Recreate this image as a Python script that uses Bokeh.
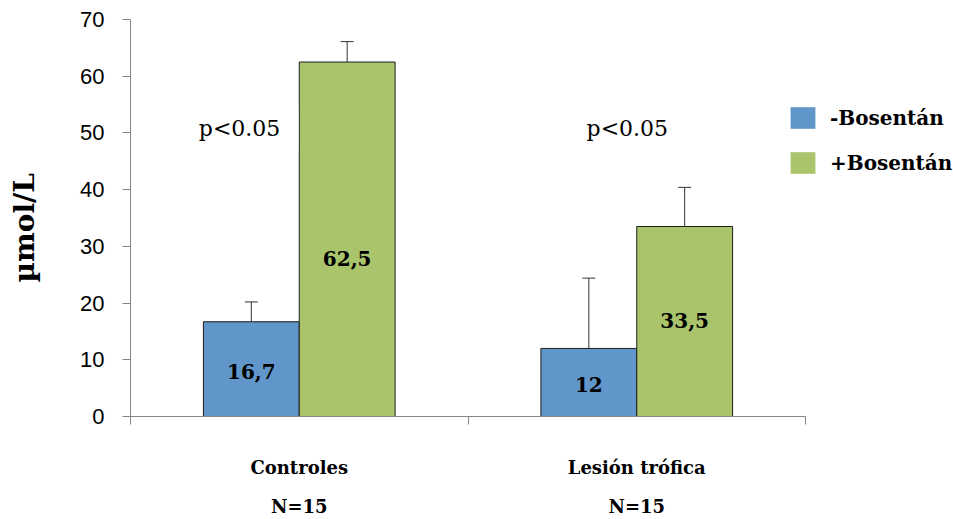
from bokeh.plotting import figure
from bokeh.models import (Range1d, FixedTicker, Whisker, ColumnDataSource, Label,
                          Legend, LegendItem, TeeHead, LinearAxis)
from bokeh.embed import file_html
from bokeh.resources import INLINE
from bokeh.core.properties import value

# ---- data ----
categories = ["Controles", "Lesión trófica"]
sample_sizes = ["N=15", "N=15"]
series_names = ["-Bosentán", "+Bosentán"]
minus_values = [16.7, 12.0]
plus_values = [62.5, 33.5]
minus_errors = [3.5, 12.4]
plus_errors = [3.6, 6.9]
minus_text = ["16,7", "12"]
plus_text = ["62,5", "33,5"]
p_texts = ["p<0.05", "p<0.05"]
y_ticks = [0, 10, 20, 30, 40, 50, 60, 70]

# ---- style / layout ----
BLUE = "#6096C9"
GREEN = "#AAC46B"
SERIF = "DejaVu Serif"
SANS = "Liberation Sans"
AXIS_GRAY = "#868686"
bar_w = 0.284
off = 0.142
minus_label_frac = 0.47
plus_label_frac = [0.446, 0.505]
p_label_x_off = [-0.165, -0.016]
p_label_y = 50.8
right_pad = 0.4385  # frame extends to the page edge so the legend is not clipped

n = len(categories)
centers = [i + 0.5 for i in range(n)]
boundaries = list(range(n + 1))
xm = [c - off for c in centers]
xp = [c + off for c in centers]

p = figure(width=953, height=519, output_backend="svg", toolbar_location=None,
           x_range=Range1d(0, n + right_pad), y_range=Range1d(0, 70),
           x_axis_location=None,
           min_border_left=130, min_border_right=0, min_border_top=19,
           min_border_bottom=100)
p.outline_line_color = None
p.xgrid.visible = False
p.ygrid.visible = False
p.background_fill_color = "white"
p.border_fill_color = "white"

src_m = ColumnDataSource(dict(x=xm, top=minus_values,
                              upper=[v + e for v, e in zip(minus_values, minus_errors)],
                              ly=[v * minus_label_frac for v in minus_values],
                              txt=minus_text))
src_p = ColumnDataSource(dict(x=xp, top=plus_values,
                              upper=[v + e for v, e in zip(plus_values, plus_errors)],
                              ly=[v * f for v, f in zip(plus_values, plus_label_frac)],
                              txt=plus_text))

# borderless copies (drawn first, hidden under the outlined bars) used for legend swatches
leg_renderers = []
for src, col in ((src_m, BLUE), (src_p, GREEN)):
    leg_renderers.append(p.vbar(x="x", top="top", width=bar_w, bottom=0, source=src,
                                fill_color=col, line_alpha=0))

for src, col in ((src_m, BLUE), (src_p, GREEN)):
    p.vbar(x="x", top="top", width=bar_w, bottom=0, source=src,
           fill_color=col, line_color="#1e1e1e", line_width=1)
    w = Whisker(source=src, base="x", lower="top", upper="upper", dimension="height",
                line_color="#333333", line_width=1,
                upper_head=TeeHead(size=13, line_color="#333333", line_width=1),
                lower_head=None, level="glyph")
    p.add_layout(w)
    p.text(x="x", y="ly", text="txt", source=src, text_font=value(SERIF),
           text_font_style="bold", text_font_size="20px", text_align="center",
           text_baseline="middle", text_color="black")

# p-value labels
for i, t in enumerate(p_texts):
    p.add_layout(Label(x=centers[i] + p_label_x_off[i], y=p_label_y, text=t,
                       text_font=SERIF, text_font_size="22px", text_align="center",
                       text_baseline="middle", text_color="black",
                       background_fill_color="white" if i == 0 else None,
                       padding=(10, 18, 10, 10)))

# y axis
p.yaxis.ticker = FixedTicker(ticks=y_ticks)
p.yaxis.axis_line_color = AXIS_GRAY
p.yaxis.major_tick_line_color = AXIS_GRAY
p.yaxis.major_tick_out = 8
p.yaxis.major_tick_in = 0
p.yaxis.minor_tick_line_color = None
p.yaxis.major_label_text_font = SANS
p.yaxis.major_label_text_font_size = "22px"
p.yaxis.major_label_text_color = "black"
p.yaxis.major_label_standoff = 18
p.yaxis.axis_label = "µmol/L\u00a0\u00a0"
p.yaxis.axis_label_text_font = SERIF
p.yaxis.axis_label_text_font_style = "bold"
p.yaxis.axis_label_text_font_size = "28px"
p.yaxis.axis_label_text_color = "black"
p.yaxis.axis_label_standoff = 36

# x axis: category names at centres, tick marks (minor) at category boundaries
x_axis = LinearAxis(ticker=FixedTicker(ticks=centers, minor_ticks=boundaries),
                    major_label_overrides={c: lab for c, lab in zip(centers, categories)},
                    bounds=(0, n), axis_line_color=AXIS_GRAY,
                    major_tick_line_color=None, major_tick_out=0, major_tick_in=0,
                    minor_tick_line_color=AXIS_GRAY, minor_tick_out=8, minor_tick_in=0,
                    major_label_standoff=32,
                    major_label_text_font=SERIF, major_label_text_font_style="bold",
                    major_label_text_font_size="18px", major_label_text_color="black")
p.add_layout(x_axis, "below")

# sample-size labels as a label-only axis
n_axis = LinearAxis(ticker=FixedTicker(ticks=centers),
                    major_label_overrides={c: lab for c, lab in zip(centers, sample_sizes)},
                    axis_line_color=None, major_tick_line_color=None,
                    minor_tick_line_color=None, major_tick_out=0, major_tick_in=0,
                    major_label_standoff=15,
                    major_label_text_font=SERIF, major_label_text_font_style="bold",
                    major_label_text_font_size="18px", major_label_text_color="black")
p.add_layout(n_axis, "below")

legend = Legend(items=[LegendItem(label=series_names[0], renderers=[leg_renderers[0]]),
                       LegendItem(label=series_names[1], renderers=[leg_renderers[1]])],
                location=(657, 240), orientation="vertical",
                glyph_width=31, glyph_height=27, label_height=27, spacing=18,
                padding=0, margin=0, border_line_alpha=0, background_fill_alpha=0,
                label_text_font=SERIF, label_text_font_style="bold",
                label_text_font_size="20px", label_standoff=12, label_text_color="black")
p.add_layout(legend)

open("out.html", "w").write(file_html(p, INLINE))
